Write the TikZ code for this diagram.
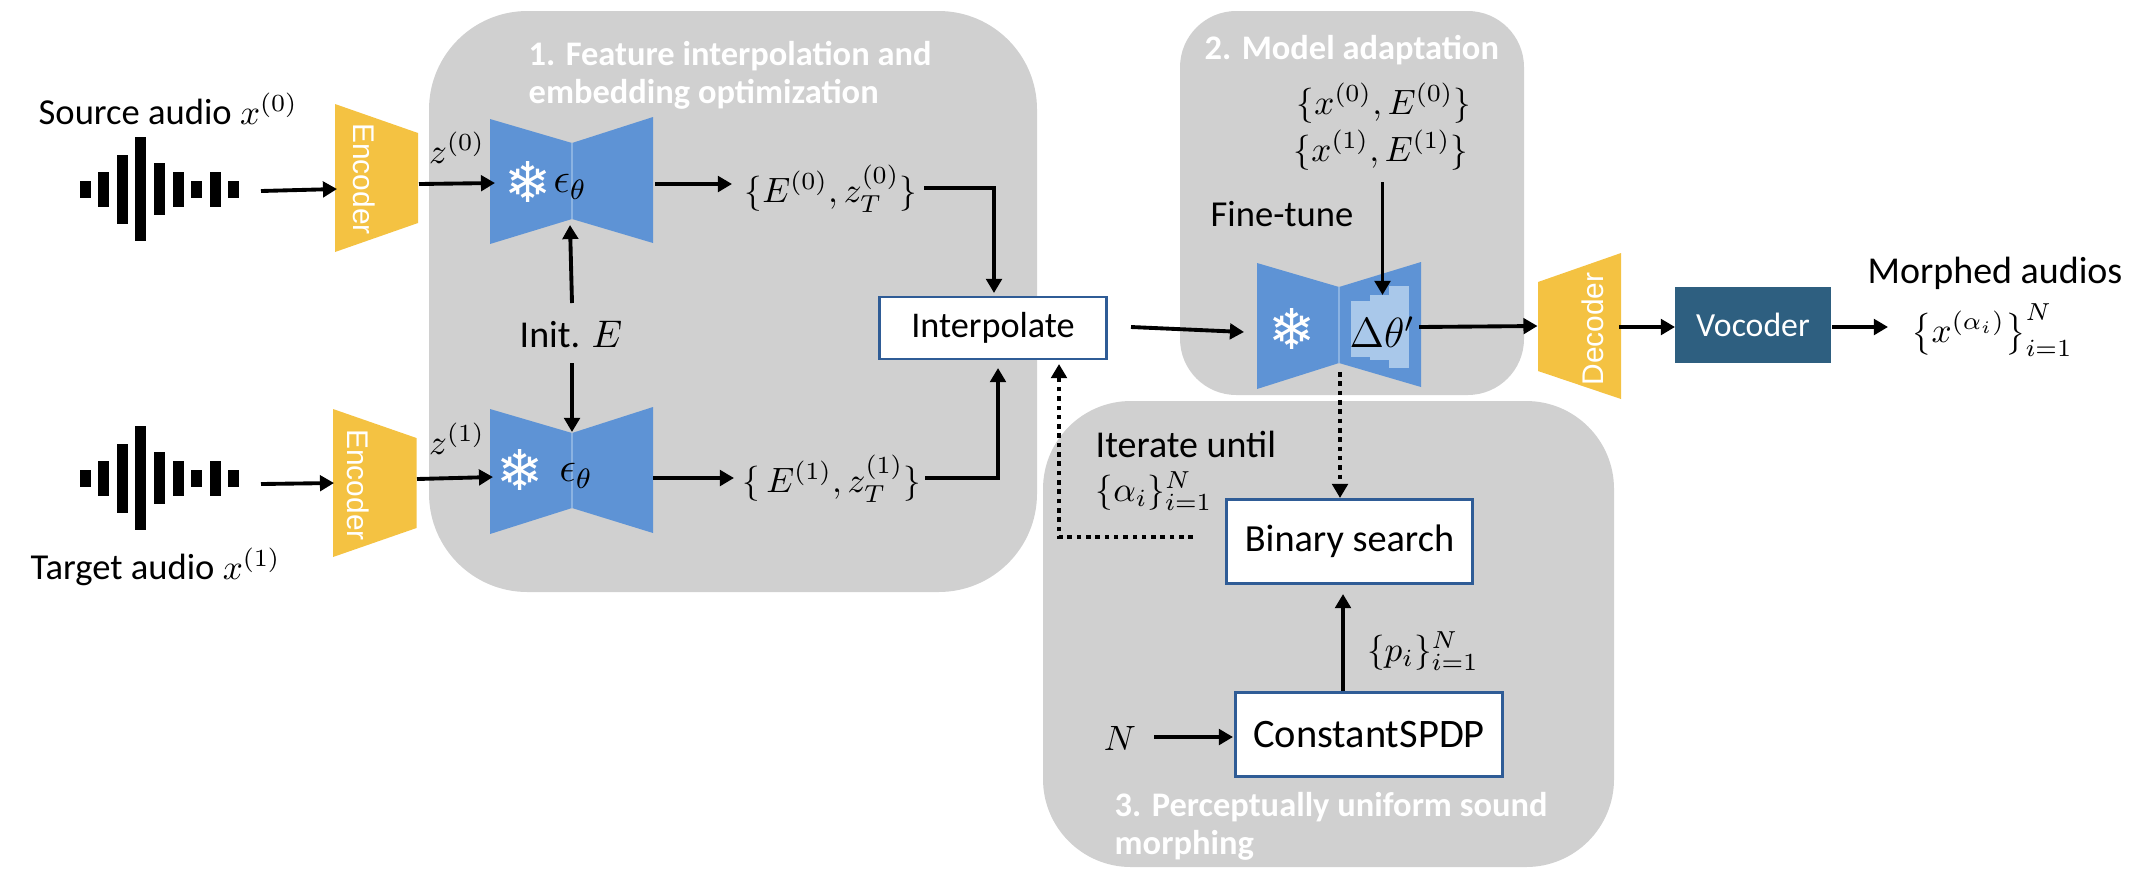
\documentclass[tikz,border=0pt]{standalone}
\usepackage{amsmath}
\usepackage{fontspec}
\setmainfont{Carlito}
\newfontfamily\armfont{Liberation Sans}
\newfontfamily\symfont{DejaVu Sans}
\usetikzlibrary{arrows.meta}
\definecolor{panelgray}{HTML}{D0D0D0}
\definecolor{unetblue}{HTML}{5E93D5}
\definecolor{deltablue}{HTML}{A9C8EA}
\definecolor{codecyellow}{HTML}{F4C242}
\definecolor{vocoderblue}{HTML}{2E5F80}
\definecolor{boxblue}{HTML}{2F5C96}
\tikzset{
    panel/.style={fill=panelgray, rounded corners=#1},
    unet/.style={fill=unetblue},
    codec/.style={fill=codecyellow},
    lbl/.style={font=\fontsize{10.8}{13}\selectfont, inner sep=0pt},
    mathlbl/.style={font=\fontsize{10}{12}\selectfont, inner sep=0pt},
    heading/.style={font=\fontsize{9.8}{11.8}\selectfont\bfseries, text=white, inner sep=0pt, anchor=west},
    codectext/.style={font=\armfont\fontsize{8.5}{10}\selectfont, text=white, inner sep=0pt},
    snow/.style={font=\symfont\fontsize{16}{16}\selectfont, text=white, inner sep=0pt},
    stepbox/.style={draw=boxblue, line width=0.8pt, fill=white, font=\fontsize{10.9}{13}\selectfont, inner sep=0pt},
    arr/.style={line width=1.1pt, -{Triangle[length=4pt,width=4.4pt]}},
    dotarr/.style={line width=1.2pt, dash pattern=on 1.3pt off 1.35pt, -{Triangle[length=4pt,width=4.4pt]}},
}

\begin{document}
\begin{tikzpicture}[x=0.01cm, y=-0.01cm]
    \useasboundingbox (0,0) rectangle (2146,878);
    % Grey panels
    \fill[panel=28pt] (429,11) rectangle (1037,592);
    \fill[panel=16pt] (1180,11) rectangle (1524,395);
    \fill[panel=25pt] (1043,401) rectangle (1614,867);
    % Panel headings
    \node[heading] (headone) at (528,56) {1. Feature interpolation and};
    \node[heading] (headoneb) at (528,94) {embedding optimization};
    \node[heading] (headtwo) at (1204,50) {2. Model adaptation};
    \node[heading] (headthree) at (1114,807) {3. Perceptually uniform sound};
    \node[heading] (headthreeb) at (1114,845) {morphing};
    % Waveforms
    \foreach \cy in {189,478} {
        \foreach \i/\h in {0/17,1/35,2/69,3/104,4/52,5/35,6/17,7/35,8/17} {
            \fill ({79.5+18.6*\i},{\cy-\h/2}) rectangle ({90.5+18.6*\i},{\cy+\h/2});
        }
    }
    \node[lbl, font=\fontsize{10.4}{13}\selectfont, anchor=west] (source) at (38,109) {Source audio $x^{(0)}$};
    \node[lbl, font=\fontsize{10.4}{13}\selectfont, anchor=west] (target) at (30,567) {Target audio $x^{(1)}$};
    % Encoders and decoder
    \fill[codec] (335,104) -- (418,133) -- (418,223) -- (335,252) -- cycle;
    \fill[codec] (333,409) -- (416.5,438) -- (416.5,528) -- (333,557) -- cycle;
    \fill[codec] (1538,282) -- (1621,253) -- (1621,399) -- (1538,371) -- cycle;
    \node[codectext, rotate=-90] (enca) at (364,179) {Encoder};
    \node[codectext, rotate=-90] (encb) at (358.5,485) {Encoder};
    \node[codectext, rotate=90] (dec) at (1593,329) {Decoder};
    % Noise predictors
    \fill[unet] (490,119) -- (572,143) -- (653,117) -- (653,243) -- (572,219) -- (490,244) -- cycle;
    \fill[unet] (490,409) -- (572,433) -- (653,407) -- (653,533) -- (572,508) -- (490,534) -- cycle;
    \fill[unet] (1257,263) -- (1339,287) -- (1421,262) -- (1421,387) -- (1339,363) -- (1257,389) -- cycle;
    \draw[deltablue!60!unetblue, line width=0.3pt] (572,143) -- (572,219) (572,433) -- (572,508) (1339,287) -- (1339,363);
    % Fine-tuned blocks
    \fill[deltablue] (1351,301) rectangle (1370,357);
    \fill[deltablue] (1370,295) rectangle (1389,360);
    \fill[deltablue] (1389,286) rectangle (1409,368);
    \node[snow] (snowa) at (528,182) {❄};
    \node[snow] (snowb) at (520,470) {❄};
    \node[snow] (snowc) at (1292,329) {❄};
    \node[lbl, font=\fontsize{12}{14}\selectfont] (epsa) at (570,187) {$\epsilon_\theta$};
    \node[lbl, font=\fontsize{12}{14}\selectfont] (epsb) at (576,476) {$\epsilon_\theta$};
    \node[lbl, font=\fontsize{12}{14}\selectfont] (delta) at (1382,332) {$\Delta\theta'$};
    % Text labels
    \node[mathlbl] (zzero) at (457,148) {$z^{(0)}$};
    \node[mathlbl] (zone) at (457,439) {$z^{(1)}$};
    \node[lbl] (init) at (571,334) {Init. $E$};
    \node[mathlbl] (ezero) at (831,189) {$\{E^{(0)},z_T^{(0)}\}$};
    \node[mathlbl] (eone) at (832,479) {$\{\,E^{(1)},z_T^{(1)}\}$};
    \node[mathlbl] (setzero) at (1384,103) {$\{x^{(0)},E^{(0)}\}$};
    \node[mathlbl] (setone) at (1381,150) {$\{x^{(1)},E^{(1)}\}$};
    \node[lbl, font=\fontsize{10.4}{12}\selectfont] (finetune) at (1282,214) {Fine-tune};
    \node[lbl] (morphed) at (1995,273) {Morphed audios};
    \node[mathlbl] (outset) at (1992,330) {$\left\{x^{(\alpha_i)}\right\}_{i=1}^N$};
    \node[lbl, anchor=west] (iterate) at (1095,444) {Iterate until};
    \node[mathlbl, anchor=west] (alphas) at (1095,491) {$\{\alpha_i\}_{i=1}^N$};
    \node[mathlbl] (pset) at (1423,651) {$\{p_i\}_{i=1}^N$};
    \node[mathlbl] (bign) at (1120,738) {$N$};
    % Boxes
    \node[stepbox, minimum width=64.6pt, minimum height=17.6pt, font=\fontsize{10.3}{13}\selectfont] (interp) at (993,328) {Interpolate};
    \node[stepbox, minimum width=70pt, minimum height=24pt] (binary) at (1349.5,541.5) {Binary search};
    \node[stepbox, minimum width=76pt, minimum height=24pt, font=\fontsize{11.5}{13}\selectfont] (spdp) at (1369,734.5) {ConstantSPDP};
    \node[fill=vocoderblue, text=white, minimum width=44.4pt, minimum height=21.6pt, inner sep=0pt, font=\fontsize{9.6}{12}\selectfont] (vocoder) at (1753,325) {Vocoder};
    % Free ends of the connectors
    \coordinate (waveaout) at (261,191);
    \coordinate (encain) at (337,189);
    \coordinate (wavebout) at (261,484);
    \coordinate (encbin) at (334,483);
    \coordinate (encaout) at (419,184);
    \coordinate (unetain) at (495,183);
    \coordinate (encbout) at (417,479);
    \coordinate (unetbin) at (493,477);
    \coordinate (unetaout) at (655,184);
    \coordinate (ezeroin) at (732,184);
    \coordinate (unetbout) at (653,478);
    \coordinate (eonein) at (734,478);
    \coordinate (ezeroout) at (924,188);
    \coordinate (eoneout) at (925,478);
    \coordinate (interptop) at (994,293);
    \coordinate (interpbotb) at (998,368);
    \coordinate (initup) at (572,303);
    \coordinate (unetabot) at (570,225);
    \coordinate (initdown) at (572,363);
    \coordinate (unetbtop) at (572,432);
    \coordinate (unetcin) at (1244,332);
    \coordinate (interpout) at (1131,327);
    \coordinate (setout) at (1382.5,182);
    \coordinate (deltatop) at (1382.5,295);
    \coordinate (unetcout) at (1419,327);
    \coordinate (decin) at (1537.5,326);
    \coordinate (decout) at (1619,327);
    \coordinate (vocin) at (1675,327);
    \coordinate (vocout) at (1832,327);
    \coordinate (outin) at (1888,327);
    \coordinate (unetcbot) at (1340,372);
    \coordinate (binarytop) at (1340,498);
    \coordinate (binaryleft) at (1193,537);
    \coordinate (loopcorner) at (1059,537);
    \coordinate (interpbot) at (1059,364);
    \coordinate (spdptop) at (1343,691);
    \coordinate (binarybot) at (1343,594);
    \coordinate (nout) at (1154,737);
    \coordinate (spdpin) at (1233,737);
    % Connectors
    \draw[arr] (waveaout) -- (encain);
    \draw[arr] (wavebout) -- (encbin);
    \draw[arr] (encaout) -- (unetain);
    \draw[arr] (encbout) -- (unetbin);
    \draw[arr] (unetaout) -- (ezeroin);
    \draw[arr] (unetbout) -- (eonein);
    \draw[arr] (initup) -- (unetabot);
    \draw[arr] (initdown) -- (unetbtop);
    \draw[arr] (ezeroout) -| (interptop);
    \draw[arr] (eoneout) -| (interpbotb);
    \draw[arr] (interpout) -- (unetcin);
    \draw[arr] (setout) -- (deltatop);
    \draw[arr] (unetcout) -- (decin);
    \draw[arr] (decout) -- (vocin);
    \draw[arr] (vocout) -- (outin);
    \draw[arr] (spdptop) -- (binarybot);
    \draw[arr] (nout) -- (spdpin);
    \draw[dotarr] (unetcbot) -- (binarytop);
    \draw[dotarr] (binaryleft) -- (loopcorner) -- (interpbot);
\end{tikzpicture}
\end{document}
